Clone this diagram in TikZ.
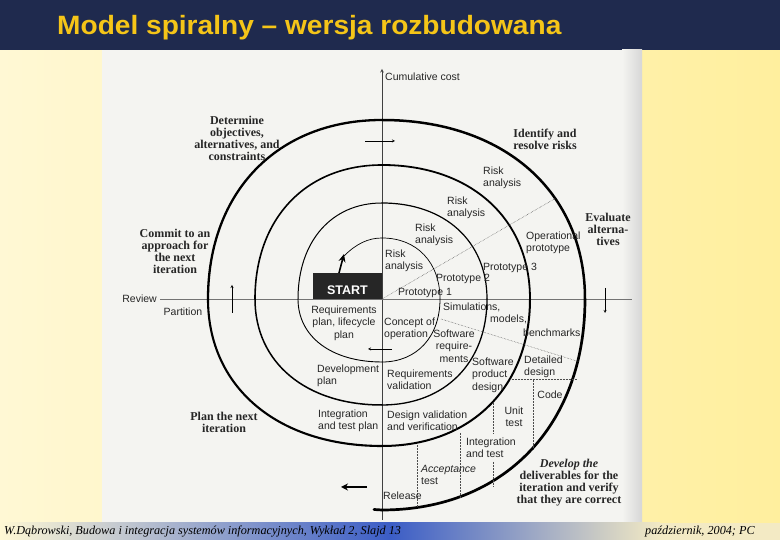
\documentclass[tikz,border=0pt]{standalone}
\usepackage{fontspec}
\setmainfont{Liberation Serif}
\setsansfont{Liberation Sans}
\usetikzlibrary{calc,arrows.meta}
\definecolor{navy}{HTML}{1F2A4E}
\definecolor{gold}{HTML}{F5C518}
\definecolor{paleyel}{HTML}{FFF8D4}
\definecolor{deepyel}{HTML}{FFEF9E}
\definecolor{scan}{HTML}{F4F4F1}
\definecolor{footblue}{HTML}{3B5DC6}
\definecolor{footgray}{HTML}{F3EAC4}
\tikzset{
    lab/.style={font=\sffamily\fontsize{10.5}{12.5}\selectfont, text=black!85, inner sep=0pt, align=left},
    hint/.style={font=\rmfamily\bfseries\fontsize{12}{12}\selectfont, text=black!85, inner sep=0pt, align=center},
    foot/.style={anchor=base west, inner sep=0pt, font=\rmfamily\itshape\fontsize{12.2}{14}\selectfont},
    dots/.style={densely dotted, line width=0.5pt, black!70},
    axis/.style={line width=0.6pt, black!75}
}
\begin{document}
\begin{tikzpicture}[x=1pt, y=1pt, >=stealth]
        \useasboundingbox (0,0) rectangle (780,540);
        \shade[left color=paleyel, right color=deepyel] (0,17) rectangle (780,490);
        \fill[navy] (0,490) rectangle (780,540);
        \node (title) at (57,505) [anchor=base west, inner sep=0pt, xscale=1.06, text=gold, font=\sffamily\bfseries\fontsize{26.5}{30}\selectfont]{Model spiralny – wersja rozbudowana};
        \fill[scan] (102,17) rectangle (642,490);
        \shade[left color=scan, right color=black!16] (622,17) rectangle (642,490);
        \shade[left color=paleyel, right color=footblue] (0,0) rectangle (390,17);
        \shade[left color=footblue, right color=footgray] (390,0) rectangle (660,17);
        \fill[footgray] (660,0) rectangle (780,17);
        \node (src) at (4,5) [foot]{W.Dąbrowski, Budowa i integracja systemów informacyjnych, Wykład 2, Slajd 13};
        \node (date) at (645,5) [foot]{październik, 2004; PC};

        \coordinate (O) at (382,241);
        \draw[axis, ->] (382,20) -- (382,471);
        \node (cost) at (385,463) [lab, anchor=west]{Cumulative cost};
        \node (review) at (157,241) [lab, anchor=east]{Review};
        \draw[axis, black!55] ([xshift=3pt]review.east) -- (632,241);
        \node (partition) at (183,228) [lab]{Partition};

        % spirala: cwiartki od osi do osi
        \def\kk{0.6}
        \draw[line width=0.7pt] (344,284) .. controls (356,296) and (368,302) .. ($(O)+(0,61)$);
        \foreach \a/\ra/\rb/\w in {90/61/58/0.7, 0/58/63/0.8, -90/63/84/0.9, 180/84/96/1.0, 90/96/105/1.2, 0/105/106/1.3, -90/106/127/1.5, 180/127/134/1.6, 90/134/148/1.8, 0/148/147/2.0, -90/147/174/2.1, 180/174/179/2.3, 90/179/203/2.5, 0/203/211/2.7}
            {
                \draw[line width=\w pt, line cap=round] ($(O)+(\a:\ra)$) .. controls ($(O)+(\a:\ra)+(\a-90:\kk*\rb)$) and ($(O)+(\a-90:\rb)+(\a:\kk*\ra)$) .. ($(O)+(\a-90:\rb)$);
            }
        \draw[line width=2.7pt, line cap=round] ($(O)+(0,-211)$) -- ++(-8,0.5);

        \node (start) at (347.5,254) [fill=black!85, minimum width=69pt, minimum height=26pt, inner sep=0pt, text height=17pt, text depth=0pt, text=white, font=\sffamily\bfseries\fontsize{12.5}{14}\selectfont]{START};
        \draw[line width=1.6pt, -{Stealth[length=8pt,width=7pt]}] (339,267) -- (344,286);

        \draw[dots] (O) -- (556,342);
        \draw[dots] (441,221) -- (580,178);
        \draw[dots] (510,161) -- (577,161);
        \draw[dots] (533,160) -- (533,90);
        \draw[dots] (493,137) -- (493,106) (493,78) -- (493,53);
        \draw[dots] (460,107) -- (460,42);
        \draw[dots] (417,95) -- (417,33);

        \draw[thin, ->] (365,399) -- (395,399);
        \draw[thin, ->] (232,227) -- (232,255);
        \draw[thin, ->] (605,252) -- (605,227);
        \draw[thin, ->] (392,191) -- (368,191);
        \draw[line width=2pt, -{Stealth[length=7pt,width=7pt]}] (367,53) -- (341,53);

        \foreach \x/\y [count=\i] in {385/279, 415/305, 447/332, 483/362}
            {
                \node (risk\i) at (\x,\y) [lab, anchor=west]{Risk\\analysis};
            }
        \foreach \x/\y [count=\i] in {425/247, 463/261, 510/272}
            {
                \node (proto\i) at (\x,\y) [lab]{Prototype \i};
            }
        \node (oper) at (526,297) [lab, anchor=west]{Operational\\prototype};
        \node (reqplan) at (344,217) [lab, align=center]{Requirements\\plan, lifecycle\\plan};
        \node (concept) at (384,211) [lab, anchor=west]{Concept of\\operation};
        \node (swreq) at (454,194) [lab, align=center]{Software\\require-\\ments};
        \node (sim) at (443,233) [lab, anchor=west]{Simulations,};
        \node (models) at (490,221) [lab, anchor=west]{models,};
        \node (bench) at (523,207) [lab, anchor=west]{benchmarks};
        \node (swprod) at (472,165) [lab, anchor=west]{Software\\product\\design};
        \node (detail) at (524,173) [lab, anchor=west]{Detailed\\design};
        \node (reqval) at (387,160) [lab, anchor=west]{Requirements\\validation};
        \node (devplan) at (317,164) [lab, anchor=west]{Development\\plan};
        \node (itplan) at (318,119) [lab, anchor=west]{Integration\\and test plan};
        \node (desval) at (387,119) [lab, anchor=west]{Design validation\\and verification};
        \node (code) at (550,145) [lab]{Code};
        \node (unit) at (514,123) [lab, align=center]{Unit\\test};
        \node (integ) at (466,92) [lab, anchor=west]{Integration\\and test};
        \node (accept) at (421,65) [lab, anchor=west]{{\itshape Acceptance}\\test};
        \node (release) at (383,44) [lab, anchor=west]{Release};

        \node (determine) at (237,402) [hint]{Determine\\objectives,\\alternatives, and\\constraints};
        \node (commit) at (175,289) [hint]{Commit to an\\approach for\\the next\\iteration};
        \node (plan) at (224,118) [hint]{Plan the next\\iteration};
        \node (identify) at (545,401) [hint]{Identify and\\resolve risks};
        \node (evaluate) at (608,311) [hint]{Evaluate\\alterna-\\tives};
        \node (develop) at (569,57) [hint]{{\itshape Develop the}\\deliverables for the\\iteration and verify\\that they are correct};
    \end{tikzpicture}
\end{document}
